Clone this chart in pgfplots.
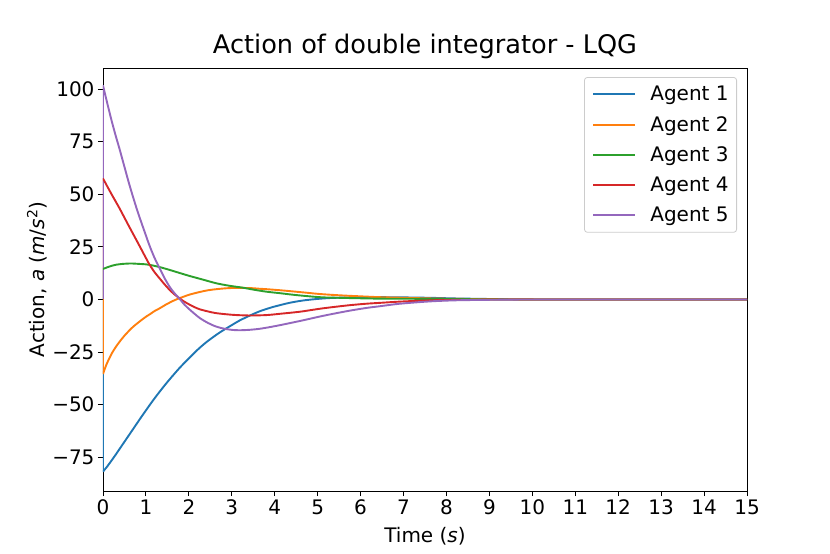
\documentclass[border=0pt]{standalone}
\usepackage{fontspec}
\setmainfont{DejaVu Sans}
\usepackage{pgfplots}
\pgfplotsset{compat=1.18}
\definecolor{c0}{HTML}{1F77B4}
\definecolor{c1}{HTML}{FF7F0E}
\definecolor{c2}{HTML}{2CA02C}
\definecolor{c3}{HTML}{D62728}
\definecolor{c4}{HTML}{9467BD}
\begin{document}
\begin{tikzpicture}
\path[use as bounding box] (0,0) rectangle (830pt,554pt);
\begin{axis}[
  at={(103pt,63pt)}, anchor=south west,
  width=644pt, height=423pt, scale only axis,
  xmin=0, xmax=15, ymin=-91, ymax=110,
  xtick={0,1,...,15},
  ytick={-75,-50,-25,0,25,50,75,100},
  yticklabels={−75,−50,−25,0,25,50,75,100},
  xtick pos=left, ytick pos=left,
  tick align=outside, major tick length=5pt,
  tick style={black, line width=0.9pt},
  axis line style={line width=0.9pt},
  every tick label/.append style={font=\fontsize{20}{24}\selectfont},
  /pgf/number format/assume math mode=true,
  title={Action of double integrator - LQG},
  title style={font=\fontsize{25.6}{30}\selectfont, yshift=0pt},
  xlabel={Time (\textit{s})},
  xlabel style={font=\fontsize{20}{24}\selectfont, at={(axis description cs:0.5,0)}, anchor=north, yshift=-33pt},
  ylabel={Action, \textit{a} (\textit{m}/\textit{s}\textsuperscript{2})},
  ylabel style={font=\fontsize{20}{24}\selectfont, at={(axis description cs:-0.0807,0.5)}, anchor=south},
  legend cell align=left,
  legend style={at={(0.9845,0.9787)}, anchor=north east, draw=black!20, line width=0.8pt,
    rounded corners=3pt, fill=white, font=\fontsize{20}{24}\selectfont,
    inner xsep=8pt, inner ysep=9pt, row sep=14pt, column sep=14pt,
    nodes={inner sep=0pt}},
  legend image code/.code={\draw[#1] (0pt,0pt) -- (42pt,0pt);},
]
\addplot[c0, line width=1.9pt, forget plot] coordinates {(0,0) (0,-81.8)};
\addplot[c1, line width=1.9pt, forget plot] coordinates {(0,0) (0,-35.4)};
\addplot[c2, line width=1.9pt, forget plot] coordinates {(0,0) (0,14.5)};
\addplot[c3, line width=1.9pt, forget plot] coordinates {(0,0) (0,57.5)};
\addplot[c4, line width=1.9pt, forget plot] coordinates {(0,0) (0,101.7)};
\addplot[c0, line width=1.9pt, smooth, tension=0.5] coordinates {(0,-81.8) (0.1,-79.3) (0.2,-76.5) (0.3,-73.6) (0.4,-70.6) (0.5,-67.6) (0.6,-64.6) (0.7,-61.6) (0.8,-58.6) (0.9,-55.6) (1.0,-52.7) (1.1,-49.8) (1.2,-47) (1.32,-43.8) (1.46,-40.2) (1.6,-36.8) (1.78,-32.6) (1.95,-29) (2.1,-25.9) (2.25,-23) (2.4,-20.4) (2.57,-17.8) (2.71,-15.8) (2.85,-14) (3.03,-11.8) (3.18,-10) (3.32,-8.6) (3.5,-6.9) (3.65,-5.6) (3.81,-4.5) (3.95,-3.6) (4.12,-2.7) (4.34,-1.6) (4.65,-0.5) (4.96,0.2) (5.3,0.7) (5.8,1.0) (6.45,1.1) (7.0,1.0) (7.62,0.8) (8.2,0.5) (8.8,0.3) (9.5,0.1) (10.5,0) (15,0)};
\addlegendentry{Agent 1}
\addplot[c1, line width=1.9pt, smooth, tension=0.5] coordinates {(0,-35.4) (0.05,-32.5) (0.1,-30) (0.2,-25.8) (0.3,-22.5) (0.4,-19.7) (0.5,-17.2) (0.6,-15) (0.7,-13) (0.85,-10.5) (1.0,-8.2) (1.1,-6.9) (1.2,-5.5) (1.32,-4.2) (1.45,-2.6) (1.56,-1.4) (1.67,-0.3) (1.78,0.6) (1.9,1.5) (2.03,2.4) (2.26,3.6) (2.45,4.4) (2.64,4.9) (2.85,5.3) (3.05,5.5) (3.25,5.5) (3.45,5.4) (3.65,5.1) (3.81,4.9) (4.12,4.4) (4.34,4.0) (4.7,3.3) (5.05,2.6) (5.5,2.0) (6.0,1.5) (6.45,1.1) (7.0,0.8) (7.62,0.5) (8.2,0.3) (8.8,0.2) (9.5,0.1) (10.5,0) (15,0)};
\addlegendentry{Agent 2}
\addplot[c2, line width=1.9pt, smooth, tension=0.5] coordinates {(0,14.5) (0.1,15.3) (0.2,16) (0.3,16.5) (0.45,16.9) (0.65,17.1) (0.85,16.9) (1.0,16.7) (1.1,16.4) (1.32,15.4) (1.56,14) (1.8,12.5) (2.03,11.1) (2.3,9.6) (2.64,7.7) (2.95,6.5) (3.26,5.6) (3.5,4.7) (3.81,3.7) (4.12,3.0) (4.5,2.1) (5.05,1.1) (5.5,0.8) (6.45,0.4) (7.62,0.3) (8.8,0.1) (10,0) (15,0)};
\addlegendentry{Agent 3}
\addplot[c3, line width=1.9pt, smooth, tension=0.5] coordinates {(0,57.5) (0.2,50) (0.38,43.5) (0.6,35) (0.85,25.5) (1.0,19.7) (1.08,16.7) (1.2,13) (1.32,10) (1.43,7.3) (1.55,4.6) (1.66,2.5) (1.78,0.6) (1.9,-1.1) (2.03,-2.6) (2.15,-3.8) (2.26,-4.7) (2.45,-5.7) (2.64,-6.5) (3.03,-7.3) (3.42,-7.6) (3.81,-7.4) (4.12,-6.8) (4.59,-5.8) (5.05,-4.4) (5.36,-3.6) (5.75,-2.7) (6.14,-2) (6.45,-1.6) (6.92,-1) (7.62,-0.4) (8.2,-0.2) (8.8,-0.1) (9.5,0) (15,0)};
\addlegendentry{Agent 4}
\addplot[c4, line width=1.9pt, smooth, tension=0.5] coordinates {(0,101.7) (0.1,93.2) (0.2,85) (0.3,77.5) (0.38,71.9) (0.5,63) (0.6,55.6) (0.7,48.7) (0.8,42.2) (0.9,36.2) (1.0,30.4) (1.08,25.8) (1.2,19.8) (1.32,14.8) (1.43,10.3) (1.55,6.1) (1.66,3.1) (1.78,0.4) (1.9,-2.5) (2.03,-5) (2.15,-7.1) (2.26,-8.9) (2.45,-11.2) (2.64,-12.9) (2.83,-13.9) (3.03,-14.5) (3.22,-14.6) (3.42,-14.4) (3.62,-14) (3.81,-13.4) (4.12,-12.2) (4.59,-10.2) (5.05,-8.1) (5.36,-6.8) (5.75,-5.3) (6.14,-4) (6.45,-3.2) (6.92,-2) (7.62,-0.9) (8.2,-0.4) (8.8,-0.2) (9.5,-0.05) (10.5,0) (15,0)};
\addlegendentry{Agent 5}
\end{axis}
\end{tikzpicture}
\end{document}
